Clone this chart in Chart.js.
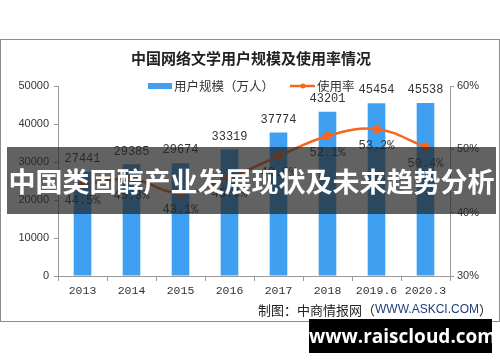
<!DOCTYPE html>
<html>
<head>
<meta charset="utf-8">
<script src="https://cdn.jsdelivr.net/npm/chart.js@4"></script>
<style>
  html, body { margin: 0; padding: 0; background: #fff; }
  #wrap { position: relative; width: 500px; height: 362px; overflow: hidden; }
  #chart { position: absolute; left: 0; top: 0; }
  .banner {
    position: absolute; left: 7px; top: 147px; width: 489px; height: 67px;
    background: rgba(38, 38, 38, 0.72);
    color: #fff; font: bold 27px "Noto Sans CJK SC", sans-serif;
    line-height: 67px; text-align: center; white-space: nowrap;
  }
  .site {
    position: absolute; left: 309px; top: 319px; width: 183px; height: 34px;
    background: #000; color: #fff; font: bold 19px "Open Sans", "DejaVu Sans", sans-serif;
    line-height: 34px; text-align: center;
  }
</style>
</head>
<body>
<div id="wrap">
  <canvas id="chart" width="500" height="362"></canvas>
  <div class="banner">中国类固醇产业发展现状及未来趋势分析</div>
  <div class="site">www.raiscloud.com</div>
</div>
<script>
  // datos
  const years = ['2013', '2014', '2015', '2016', '2017', '2018', '2019.6', '2020.3'];
  const users = [27441, 29385, 29674, 33319, 37774, 43201, 45454, 45538];
  const rates = [44.5, 45.3, 43.1, 45.6, 48.9, 52.1, 53.2, 50.4];

  const leftTicks = [0, 10000, 20000, 30000, 40000, 50000];
  const rightTicks = [30, 40, 50, 60];

  const barColor = '#3fa0f2';
  const lineColor = '#f5671f';
  const textColor = '#333';

  // título, leyenda, etiquetas y fuente dibujados a mano
  const decorPlugin = {
    id: 'decor',
    beforeDraw(chart) {
      const ctx = chart.ctx;
      ctx.save();
      ctx.fillStyle = '#fff';
      ctx.fillRect(0, 0, 500, 362);
      ctx.strokeStyle = '#8c8c8c';
      ctx.lineWidth = 1;
      ctx.strokeRect(0.5, 39.5, 499, 282);
      ctx.restore();
    },
    afterDatasetsDraw(chart) {
      const ctx = chart.ctx;
      ctx.save();

      // título
      ctx.fillStyle = '#222';
      ctx.font = 'bold 15px "Noto Sans CJK SC", sans-serif';
      ctx.textAlign = 'center';
      ctx.textBaseline = 'middle';
      ctx.fillText('中国网络文学用户规模及使用率情况', 251, 58);

      // leyenda
      ctx.fillStyle = barColor;
      ctx.fillRect(148, 83, 24, 6);
      ctx.fillStyle = textColor;
      ctx.font = '12.5px "Noto Sans CJK SC", sans-serif';
      ctx.textAlign = 'left';
      ctx.fillText('用户规模（万人）', 174, 86);
      ctx.strokeStyle = lineColor;
      ctx.lineWidth = 2.5;
      ctx.beginPath();
      ctx.moveTo(290, 86);
      ctx.lineTo(315, 86);
      ctx.stroke();
      ctx.fillStyle = lineColor;
      ctx.beginPath();
      ctx.arc(303, 86, 2.5, 0, Math.PI * 2);
      ctx.fill();
      ctx.fillStyle = textColor;
      ctx.fillText('使用率', 317, 86);

      // etiquetas de datos
      ctx.font = '12px "Liberation Mono", monospace';
      ctx.textAlign = 'center';
      const barMeta = chart.getDatasetMeta(0);
      barMeta.data.forEach((bar, i) => {
        ctx.fillText(String(users[i]), bar.x, bar.y - 13);
      });
      const lineMeta = chart.getDatasetMeta(1);
      lineMeta.data.forEach((pt, i) => {
        ctx.fillText(rates[i].toFixed(1) + '%', pt.x, pt.y + 17);
      });

      // fuente
      let x = 258;
      const parts = [['制图：中商情报网（', '#222'], ['WWW.ASKCI.COM', '#1f3d7a'], ['）', '#222']];
      ctx.textAlign = 'left';
      parts.forEach(([t, c]) => {
        ctx.fillStyle = c;
        if (c !== '#222') ctx.font = '12px "Liberation Sans", sans-serif';
        else ctx.font = '13px "Noto Sans CJK SC", sans-serif';
        ctx.fillText(t, x, 310);
        x += ctx.measureText(t).width;
      });

      ctx.restore();
    }
  };

  const chart = new Chart(document.getElementById('chart'), {
    data: {
      labels: years,
      datasets: [
        {
          type: 'bar',
          data: users,
          backgroundColor: barColor,
          barPercentage: 0.36,
          categoryPercentage: 1,
          yAxisID: 'y',
          order: 2
        },
        {
          type: 'line',
          data: rates,
          borderColor: lineColor,
          backgroundColor: lineColor,
          borderWidth: 2.5,
          pointRadius: 3,
          pointHoverRadius: 3,
          tension: 0.4,
          yAxisID: 'y1',
          order: 1
        }
      ]
    },
    options: {
      responsive: false,
      animation: false,
      events: [],
      layout: { padding: { top: 86 } },
      plugins: {
        legend: { display: false },
        title: { display: false },
        tooltip: { enabled: false }
      },
      scales: {
        x: {
          offset: true,
          afterFit: (s) => { s.height = 86; },
          grid: { display: true, drawOnChartArea: false, offset: true, tickLength: 5, color: '#999' },
          border: { color: '#999' },
          ticks: { color: textColor, font: { family: 'Liberation Mono', size: 11.5 }, padding: 3 }
        },
        y: {
          position: 'left',
          min: 0, max: 50000,
          afterFit: (s) => { s.width = 58; },
          afterBuildTicks: (s) => { s.ticks = leftTicks.map(v => ({ value: v })); },
          grid: { drawOnChartArea: false, tickLength: 4, color: '#999' },
          border: { color: '#999' },
          ticks: {
            color: textColor, font: { family: 'Liberation Sans', size: 11 }, padding: 5,
            callback: (v) => String(v)
          }
        },
        y1: {
          position: 'right',
          min: 30, max: 60,
          afterFit: (s) => { s.width = 50; },
          afterBuildTicks: (s) => { s.ticks = rightTicks.map(v => ({ value: v })); },
          grid: { drawOnChartArea: false, tickLength: 4, color: '#999' },
          border: { color: '#999' },
          ticks: {
            color: textColor, font: { family: 'Liberation Sans', size: 11 }, padding: 3,
            callback: (v) => v + '%'
          }
        }
      }
    },
    plugins: [decorPlugin]
  });
</script>
</body>
</html>
